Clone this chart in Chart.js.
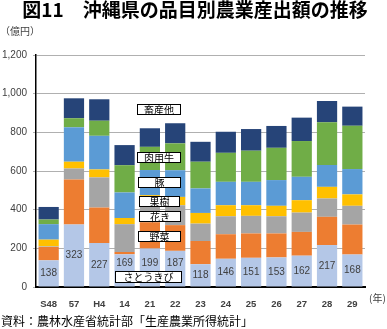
<!DOCTYPE html>
<html>
<head>
<meta charset="utf-8">
<script src="https://cdn.jsdelivr.net/npm/chart.js@4/dist/chart.umd.min.js"></script>
<style>
  body { margin: 0; background: #fff; }
  canvas { display: block; }
</style>
</head>
<body>
<canvas id="chart" width="387" height="329"></canvas>
<script>
// Years (Showa 48, 57, Heisei 4, 14 ... 29)
const years = ["S48", "57", "H4", "14", "21", "22", "23", "24", "25", "26", "27", "28", "29"];

// Output value per item (100 million yen), bottom to top of each bar
const sugarcane = [138, 323, 227, 169, 199, 187, 118, 146, 151, 153, 162, 217, 168];
const vegetables = [69, 233, 184, 12, 136, 133, 120, 127, 126, 124, 123, 146, 155];
const flowers = [3, 57, 156, 144, 100, 103, 90, 93, 91, 89, 100, 95, 97];
const fruit = [35, 35, 41, 32, 40, 43, 55, 57, 55, 54, 64, 60, 59];
const pigs = [80, 178, 174, 132, 130, 138, 127, 121, 121, 133, 121, 113, 131];
const beefCattle = [24, 47, 78, 141, 120, 139, 138, 150, 161, 167, 185, 221, 224];
const otherLivestock = [65, 103, 111, 104, 96, 104, 103, 109, 112, 113, 121, 110, 99];

const yTicks = [0, 200, 400, 600, 800, 1000, 1200];

const seriesNames = ["さとうきび", "野菜", "花き", "果樹", "豚", "肉用牛", "畜産他"];
const seriesColors = ["#B4C7E7", "#ED7D31", "#A5A5A5", "#FFC000", "#5B9BD5", "#70AD47", "#264478"];
const seriesData = [sugarcane, vegetables, flowers, fruit, pigs, beefCattle, otherLivestock];

const jpFont = '"Noto Sans CJK JP", sans-serif';
const numFont = '"Liberation Sans", Arial, sans-serif';

// Name boxes laid over the middle of the chart
const nameBoxes = [
  { text: "畜産他", x: 137, y: 104, w: 44, h: 11 },
  { text: "肉用牛", x: 137, y: 152, w: 44, h: 11 },
  { text: "豚", x: 138, y: 177, w: 43, h: 11 },
  { text: "果樹", x: 139, y: 196, w: 41, h: 11 },
  { text: "花き", x: 139, y: 211, w: 42, h: 11 },
  { text: "野菜", x: 138, y: 231, w: 43, h: 11 },
  { text: "さとうきび", x: 115, y: 271, w: 67, h: 12 },
];

const textPlugin = {
  id: "textPlugin",
  afterDatasetsDraw(chart) {
    const ctx = chart.ctx;
    ctx.save();

    // sugarcane values inside the bottom segment, moved above the name box where it covers them
    const meta = chart.getDatasetMeta(0);
    const sugarBox = nameBoxes[nameBoxes.length - 1];
    ctx.font = "10px " + numFont;
    ctx.fillStyle = "#404040";
    ctx.textAlign = "center";
    ctx.textBaseline = "middle";
    meta.data.forEach((bar, i) => {
      let y = (bar.y + bar.base) / 2;
      if (bar.x > sugarBox.x && bar.x < sugarBox.x + sugarBox.w && y + 5 > sugarBox.y) {
        y = sugarBox.y - 8;
      }
      ctx.fillText(String(sugarcane[i]), bar.x, y);
    });

    // name boxes
    ctx.font = "10px " + jpFont;
    nameBoxes.forEach((b) => {
      ctx.fillStyle = "#fff";
      ctx.fillRect(b.x, b.y, b.w, b.h);
      ctx.strokeStyle = "#000";
      ctx.lineWidth = 1;
      ctx.strokeRect(b.x + 0.5, b.y + 0.5, b.w - 1, b.h - 1);
      ctx.fillStyle = "#000";
      ctx.fillText(b.text, b.x + b.w / 2, b.y + b.h / 2 + 0.5);
    });

    // title
    ctx.font = "bold 19px " + jpFont;
    ctx.fillStyle = "#000";
    ctx.fillText("図11　沖縄県の品目別農業産出額の推移", 195, 10);

    // unit and year labels
    ctx.font = "10px " + jpFont;
    ctx.fillStyle = "#404040";
    ctx.textAlign = "left";
    ctx.fillText("（億円）", 0, 31);
    ctx.fillText("(年)", 369, 298);

    // source
    ctx.font = "12px " + jpFont;
    ctx.fillStyle = "#000";
    ctx.fillText("資料：農林水産省統計部「生産農業所得統計」", 1, 321);
    ctx.restore();
  },
};

new Chart(document.getElementById("chart"), {
  type: "bar",
  data: {
    labels: years,
    datasets: seriesData.map((values, i) => ({
      label: seriesNames[i],
      data: values,
      backgroundColor: seriesColors[i],
      borderWidth: 0,
      categoryPercentage: 1,
      barPercentage: 0.8,
    })),
  },
  options: {
    responsive: false,
    animation: false,
    layout: { padding: { top: 55, right: 22, left: 0, bottom: 0 } },
    plugins: {
      legend: { display: false },
      tooltip: { enabled: false },
    },
    scales: {
      x: {
        stacked: true,
        grid: { display: false },
        border: { color: "#000", width: 2 },
        ticks: {
          color: "#404040",
          font: { family: numFont, size: 9.5, weight: "bold" },
          padding: 4,
          maxRotation: 0,
        },
        afterFit: (scale) => { scale.height = 42; },
      },
      y: {
        stacked: true,
        min: 0,
        max: 1200,
        afterBuildTicks: (scale) => { scale.ticks = yTicks.map((v) => ({ value: v })); },
        grid: { color: "#B0B0B0", lineWidth: 1, tickLength: 3 },
        border: { color: "#000", width: 1.5 },
        ticks: {
          color: "#404040",
          font: { family: numFont, size: 10 },
          padding: 6,
          callback: (v) => v.toLocaleString("en-US"),
        },
        afterFit: (scale) => { scale.width = 36; },
      },
    },
  },
  plugins: [textPlugin],
});
</script>
</body>
</html>
